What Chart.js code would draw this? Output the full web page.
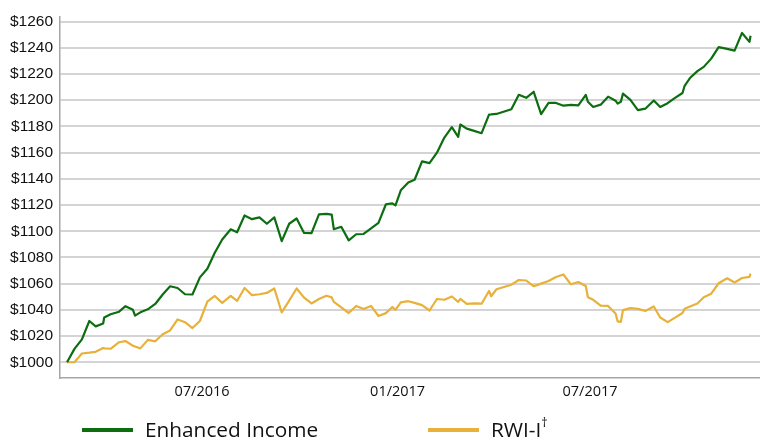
<!DOCTYPE html>
<html>
<head>
<meta charset="utf-8">
<script src="https://cdn.jsdelivr.net/npm/chart.js@4.4.1/dist/chart.umd.min.js"></script>
<style>
  html, body { margin: 0; padding: 0; background: #ffffff; }
  #wrap { position: relative; width: 760px; height: 439px; overflow: hidden; }
  #c { position: absolute; left: 0; top: 0; }
  .swatch { position: absolute; height: 4px; width: 51px; top: 428px; }
  .lbl { position: absolute; top: 416px; font-family: "Open Sans", sans-serif; font-size: 20.8px; line-height: 27px; color: #111; white-space: nowrap; }
  .lbl sup { font-size: 12.5px; line-height: 0; position: relative; top: -2px; }
</style>
</head>
<body>
<div id="wrap">
  <canvas id="c" width="760" height="439"></canvas>
</div>
<script>
// x = days since 2016-01-01 (weekly observations plus month-end points)
const days = [55,62,69,76,82,89,90,96,104,110,117,119,124,131,138,145,152,159,166,173,180,187,194,201,209,215,222,229,236,243,250,257,264,271,278,285,292,299,304,306,313,320,327,334,341,348,355,361,364,369,376,382,389,396,403,410,417,423,425,431,438,445,452,454,459,473,480,487,494,501,508,515,522,529,536,543,545,550,557,564,571,573,576,578,585,592,599,607,613,620,627,634,636,641,648,654,661,668,676,683,690,697,698];

const enhancedIncome = [1000,1010.2,1017.5,1031.5,1027.4,1029.6,1034.2,1036.6,1038.6,1042.8,1040,1035.6,1038.1,1040.4,1044.5,1051.7,1058,1056.7,1051.9,1051.7,1064.8,1071.3,1083.6,1093.7,1101.5,1099.2,1112,1109.2,1110.6,1105.7,1110.6,1092.4,1105.7,1109.7,1098.7,1098.5,1112.9,1113.3,1112.7,1101.5,1103.4,1093,1097.7,1097.9,1102.2,1106.4,1120.6,1121.3,1119.7,1131.2,1137.1,1139.3,1153.3,1152,1159.9,1171.5,1179.4,1172,1181.4,1178.3,1176.6,1174.8,1189,1189.1,1189.5,1193.1,1204.1,1201.8,1206.4,1189.3,1197.9,1197.9,1195.8,1196.4,1196,1204,1198.8,1194.8,1196.6,1202.7,1199.6,1197.4,1198.8,1205,1200.2,1192.4,1193.5,1199.8,1194.8,1197.7,1201.8,1205.5,1211,1216.9,1222.2,1225.4,1231.7,1240.5,1239.1,1237.8,1251.3,1244.5,1249.2];

const rwiI = [1000,1000,1006.7,1007.3,1008,1010.9,1010.6,1010.3,1015.3,1016.2,1012.6,1012,1010.6,1017.1,1016,1021.4,1024.3,1032.7,1030.6,1026.1,1031.5,1046.2,1050.6,1045.3,1050.7,1046.8,1056.7,1051.2,1051.9,1052.9,1056.3,1038,1047.1,1056.3,1049.3,1044.9,1048.3,1050.8,1049.5,1046.1,1041.8,1037.6,1043,1040.7,1043,1035.3,1037.5,1042.2,1040,1045.7,1046.6,1045.3,1043.6,1039.5,1048.3,1047.7,1050.2,1046.1,1048.4,1044.6,1045,1044.7,1054.4,1050.4,1055.7,1059.2,1062.8,1062.4,1058,1060,1062,1065.1,1067,1059.5,1061.2,1058.2,1049.6,1047.7,1043.3,1043,1037.2,1031.2,1030.8,1039.8,1041.3,1040.7,1039.2,1042.6,1034.2,1030.6,1034.1,1037.6,1040.9,1042.6,1044.9,1049.6,1052.3,1060.3,1064.1,1060.9,1064.3,1065.2,1067.7];

const seriesNames = ['Enhanced Income', 'RWI-I†'];
const seriesColors = ['#0c6e10', '#e7b13a'];

// x tick positions (days since 2016-01-01) and their labels
const xTickDays = [182, 366, 547];
const xTickLabels = ['07/2016', '01/2017', '07/2017'];

// y ticks
const yTicks = [1000,1020,1040,1060,1080,1100,1120,1140,1160,1180,1200,1220,1240,1260];
const yMin = 988, yMax = 1264;
const xMin = 48.4, xMax = 706.9;

const toPts = arr => arr.map((v, i) => ({ x: days[i], y: v }));

const chart = new Chart(document.getElementById('c'), {
  type: 'line',
  data: {
    datasets: [
      { label: seriesNames[0], data: toPts(enhancedIncome), borderColor: seriesColors[0], backgroundColor: seriesColors[0], borderWidth: 2.2, pointRadius: 0, tension: 0, borderJoinStyle: 'round', fill: false },
      { label: seriesNames[1], data: toPts(rwiI), borderColor: seriesColors[1], backgroundColor: seriesColors[1], borderWidth: 2.2, pointRadius: 0, tension: 0, borderJoinStyle: 'round', fill: false }
    ]
  },
  options: {
    responsive: false,
    animation: false,
    devicePixelRatio: 1,
    layout: { padding: { left: 0, right: 0, top: 15, bottom: 31 } },
    plugins: { legend: { display: false }, tooltip: { enabled: false } },
    scales: {
      x: {
        type: 'linear',
        min: xMin, max: xMax,
        afterBuildTicks: s => { s.ticks = xTickDays.map(v => ({ value: v })); },
        afterFit: s => { s.height = 30; },
        grid: { display: false, drawTicks: false },
        border: { display: true, color: '#a6a6a6', width: 1.5 },
        ticks: {
          autoSkip: false, maxRotation: 0, padding: 5,
          color: '#111',
          font: { family: '"Open Sans", sans-serif', size: 14.5 },
          callback: (v) => { const i = xTickDays.indexOf(v); return i >= 0 ? xTickLabels[i] : ''; }
        }
      },
      y: {
        type: 'linear',
        min: yMin, max: yMax,
        afterBuildTicks: s => { s.ticks = yTicks.map(v => ({ value: v })); },
        afterFit: s => { s.width = 60; },
        grid: { display: true, drawTicks: false, color: '#d4d4d4', lineWidth: 2 },
        border: { display: true, color: '#a6a6a6', width: 1.5 },
        ticks: {
          autoSkip: false, padding: 7,
          color: '#111',
          font: { family: '"Liberation Sans", Arial, sans-serif', size: 15.5 },
          callback: v => '$' + v
        }
      }
    }
  }
});

// HTML legend built from the datasets
const wrap = document.getElementById('wrap');
const legendLefts = [82, 428];
chart.data.datasets.forEach((ds, i) => {
  const sw = document.createElement('div');
  sw.className = 'swatch';
  sw.style.left = legendLefts[i] + 'px';
  sw.style.background = ds.borderColor;
  wrap.appendChild(sw);
  const lb = document.createElement('div');
  lb.className = 'lbl';
  lb.style.left = (legendLefts[i] + 63) + 'px';
  const name = ds.label;
  if (name.endsWith('†')) {
    lb.textContent = name.slice(0, -1);
    const sup = document.createElement('sup');
    sup.textContent = '†';
    lb.appendChild(sup);
  } else {
    lb.textContent = name;
  }
  wrap.appendChild(lb);
});
</script>
</body>
</html>
